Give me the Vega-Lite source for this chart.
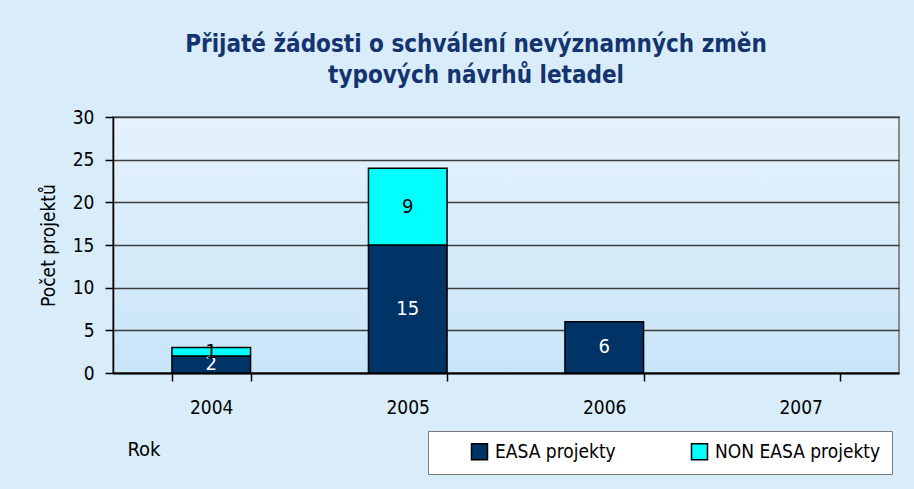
{
  "$schema": "https://vega.github.io/schema/vega-lite/v6.json",
  "autosize": {"type": "none"},
  "width": 786,
  "height": 256,
  "padding": {"left": 113, "top": 117, "right": 15, "bottom": 116},
  "background": "#d8ecfa",
  "title": {
    "text": ["Přijaté žádosti o schválení nevýznamných změn", "typových návrhů letadel"],
    "font": "DejaVu Sans Condensed, sans-serif",
    "fontSize": 24,
    "fontWeight": "bold",
    "color": "#15336e",
    "lineHeight": 31,
    "baseline": "alphabetic",
    "offset": 1,
    "dx": -30,
    "anchor": "middle"
  },
  "data": {
    "values": [
      {"rok": "2004", "serie": "EASA projekty", "pocet": 2},
      {"rok": "2004", "serie": "NON EASA projekty", "pocet": 1},
      {"rok": "2005", "serie": "EASA projekty", "pocet": 15},
      {"rok": "2005", "serie": "NON EASA projekty", "pocet": 9},
      {"rok": "2006", "serie": "EASA projekty", "pocet": 6},
      {"rok": "2006", "serie": "NON EASA projekty", "pocet": 0},
      {"rok": "2007", "serie": "EASA projekty", "pocet": 0},
      {"rok": "2007", "serie": "NON EASA projekty", "pocet": 0}
    ]
  },
  "transform": [{"filter": "datum.pocet > 0"}],
  "encoding": {
    "x": {
      "field": "rok",
      "type": "nominal",
      "scale": {"domain": ["2004", "2005", "2006", "2007"], "paddingInner": 0.6, "paddingOuter": 0.3},
      "axis": {
        "title": "Rok",
        "labelAngle": 0,
        "tickBand": "extent",
        "tickSize": 8,
        "tickColor": "#000000",
        "tickWidth": 1.5,
        "domainColor": "#000000",
        "domainWidth": 2,
        "labelFontSize": 19,
        "labelPadding": 17,
        "labelColor": "#000000",
        "titleFontSize": 20,
        "titleFontWeight": "normal",
        "titleColor": "#000000",
        "titleAnchor": "start",
        "titleAlign": "left",
        "titleBaseline": "middle",
        "titleX": 14,
        "titleY": 76
      }
    },
    "y": {
      "field": "pocet",
      "type": "quantitative",
      "stack": "zero",
      "scale": {"domain": [0, 30]},
      "axis": {
        "title": "Počet projektů",
        "values": [0, 5, 10, 15, 20, 25, 30],
        "grid": true,
        "gridColor": "#3c3c3c",
        "gridWidth": 1.5,
        "tickSize": 8,
        "tickColor": "#000000",
        "tickWidth": 1.5,
        "domainColor": "#000000",
        "domainWidth": 1.5,
        "labelFontSize": 19,
        "labelPadding": 11,
        "labelColor": "#000000",
        "titleFontSize": 19,
        "titleFontWeight": "normal",
        "titleColor": "#000000",
        "titlePadding": 14
      }
    },
    "order": {"field": "serie", "sort": "ascending"}
  },
  "layer": [
    {
      "mark": {"type": "bar", "stroke": "#000000", "strokeWidth": 1.5},
      "encoding": {
        "color": {
          "field": "serie",
          "type": "nominal",
          "scale": {"domain": ["EASA projekty", "NON EASA projekty"], "range": ["#003366", "#00ffff"]},
          "legend": {
            "title": null,
            "orient": "none",
            "direction": "horizontal",
            "legendX": 315,
            "legendY": 314,
            "fillColor": "#ffffff",
            "strokeColor": "#7a7a7a",
            "padding": 11,
            "symbolType": "square",
            "symbolSize": 256,
            "symbolStrokeColor": "#000000",
            "symbolStrokeWidth": 1.5,
            "symbolOffset": 31,
            "labelOffset": 6,
            "labelFontSize": 19,
            "labelColor": "#000000",
            "labelLimit": 400,
            "columnPadding": 43
          }
        }
      }
    },
    {
      "mark": {"type": "text", "fontSize": 20, "baseline": "middle"},
      "encoding": {
        "y": {"field": "pocet", "type": "quantitative", "stack": "zero", "bandPosition": 0.5},
        "detail": {"field": "serie"},
        "text": {"field": "pocet", "type": "quantitative"},
        "color": {"condition": {"test": "datum.serie === 'EASA projekty'", "value": "#ffffff"}, "value": "#000000"}
      }
    }
  ],
  "config": {
    "font": "DejaVu Sans Condensed, sans-serif",
    "view": {
      "stroke": "#8a8a8a",
      "strokeWidth": 2,
      "fill": {
        "gradient": "linear",
        "x1": 0, "y1": 0, "x2": 0, "y2": 1,
        "stops": [
          {"offset": 0, "color": "#e6f2fc"},
          {"offset": 1, "color": "#c8e5f8"}
        ]
      }
    }
  }
}
